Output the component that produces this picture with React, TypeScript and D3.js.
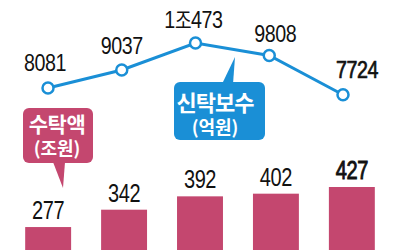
import React from "react";
import * as d3 from "d3";

const years = ["y1", "y2", "y3", "y4", "y5"];
const trustAmount = [277, 342, 392, 402, 427];
const trustFee = [8081, 9037, 10473, 9808, 7724];
const feeLabels = ["8081", "9037", "1조473", "9808", "7724"];
const amountLabels = ["277", "342", "392", "402", "427"];

const W = 400;
const H = 250;
const PINK = "#c4476f";
const BLUE = "#1a8fd6";
const NUM_FONT = "'Liberation Sans', Arial, sans-serif";
const KR_FONT = "'Noto Sans CJK KR', 'Noto Sans', sans-serif";

export default function App() {
  const xBar = d3.scaleBand<string>().domain(years).range([10, 390]).paddingInner(0.395).paddingOuter(0.2);
  const yBar = d3.scaleLinear().domain([0, 427]).range([301, 187]);
  const xLine = d3.scalePoint<string>().domain(years).range([48, 343]);
  const yLine = d3.scaleLinear().domain([7724, 10473]).range([94.7, 43]);

  const line = d3
    .line<number>()
    .x((_, i) => xLine(years[i])!)
    .y((d) => yLine(d));

  const feeLabelDx = [-3, 0, -2, 6, 14];
  const feeLabelDy = [-17, -16, -15, -14, -17];

  return (
    <svg width={W} height={H} style={{ position: "absolute", left: 0, top: 0, background: "#fff" }}>
      {/* bars */}
      {trustAmount.map((v, i) => (
        <rect
          key={i}
          x={xBar(years[i])!}
          y={yBar(v)}
          width={xBar.bandwidth()}
          height={H - yBar(v) + 5}
          fill={PINK}
        />
      ))}
      {trustAmount.map((v, i) => (
        <text
          key={"bl" + i}
          transform={`translate(${xBar(years[i])! + xBar.bandwidth() / 2},${yBar(v) - 8}) scale(0.8,1)`}
          textAnchor="middle"
          fontFamily={NUM_FONT}
          fontSize={25}
          letterSpacing={-0.5}
          fill="#111"
          stroke={i === 4 ? "#111" : "none"}
          strokeWidth={0.9}
        >
          {amountLabels[i]}
        </text>
      ))}

      {/* line */}
      <path d={line(trustFee) ?? ""} fill="none" stroke={BLUE} strokeWidth={3} />
      {trustFee.map((v, i) => (
        <circle key={"c" + i} cx={xLine(years[i])!} cy={yLine(v)} r={5.5} fill="#fff" stroke={BLUE} strokeWidth={2.5} />
      ))}
      {trustFee.map((v, i) => (
        <text
          key={"fl" + i}
          transform={`translate(${xLine(years[i])! + feeLabelDx[i]},${yLine(v) + feeLabelDy[i]}) scale(0.82,1)`}
          textAnchor="middle"
          fontFamily={NUM_FONT}
          fontSize={24}
          letterSpacing={-0.5}
          fill="#111"
          stroke={i === 4 ? "#111" : "none"}
          strokeWidth={0.7}
        >
          {i === 2 ? (
            <>
              1<tspan fontFamily={KR_FONT} fontSize={22}>조</tspan>473
            </>
          ) : (
            feeLabels[i]
          )}
        </text>
      ))}

      {/* pink callout */}
      <path d="M53,162 L63,188 L65,162 Z" fill={PINK} />
      <rect x={23} y={108} width={70} height={55} rx={6} fill={PINK} />
      <text x={57} y={132} textAnchor="middle" fontFamily={KR_FONT} fontSize={21} fontWeight={700} fill="#fff" letterSpacing={-0.5}>
        수탁액
      </text>
      <text x={57} y={155} textAnchor="middle" fontFamily={KR_FONT} fontSize={18} fontWeight={700} fill="#fff" letterSpacing={0}>
        (조원)
      </text>

      {/* blue callout */}
      <path d="M222,84 L235,57 L233,84 Z" fill={BLUE} />
      <rect x={174} y={82} width={91} height={58} rx={6} fill={BLUE} />
      <text x={215} y={111} textAnchor="middle" fontFamily={KR_FONT} fontSize={22} fontWeight={700} fill="#fff" letterSpacing={-1}>
        신탁보수
      </text>
      <text x={215} y={134} textAnchor="middle" fontFamily={KR_FONT} fontSize={18} fontWeight={700} fill="#fff" letterSpacing={0}>
        (억원)
      </text>
    </svg>
  );
}
